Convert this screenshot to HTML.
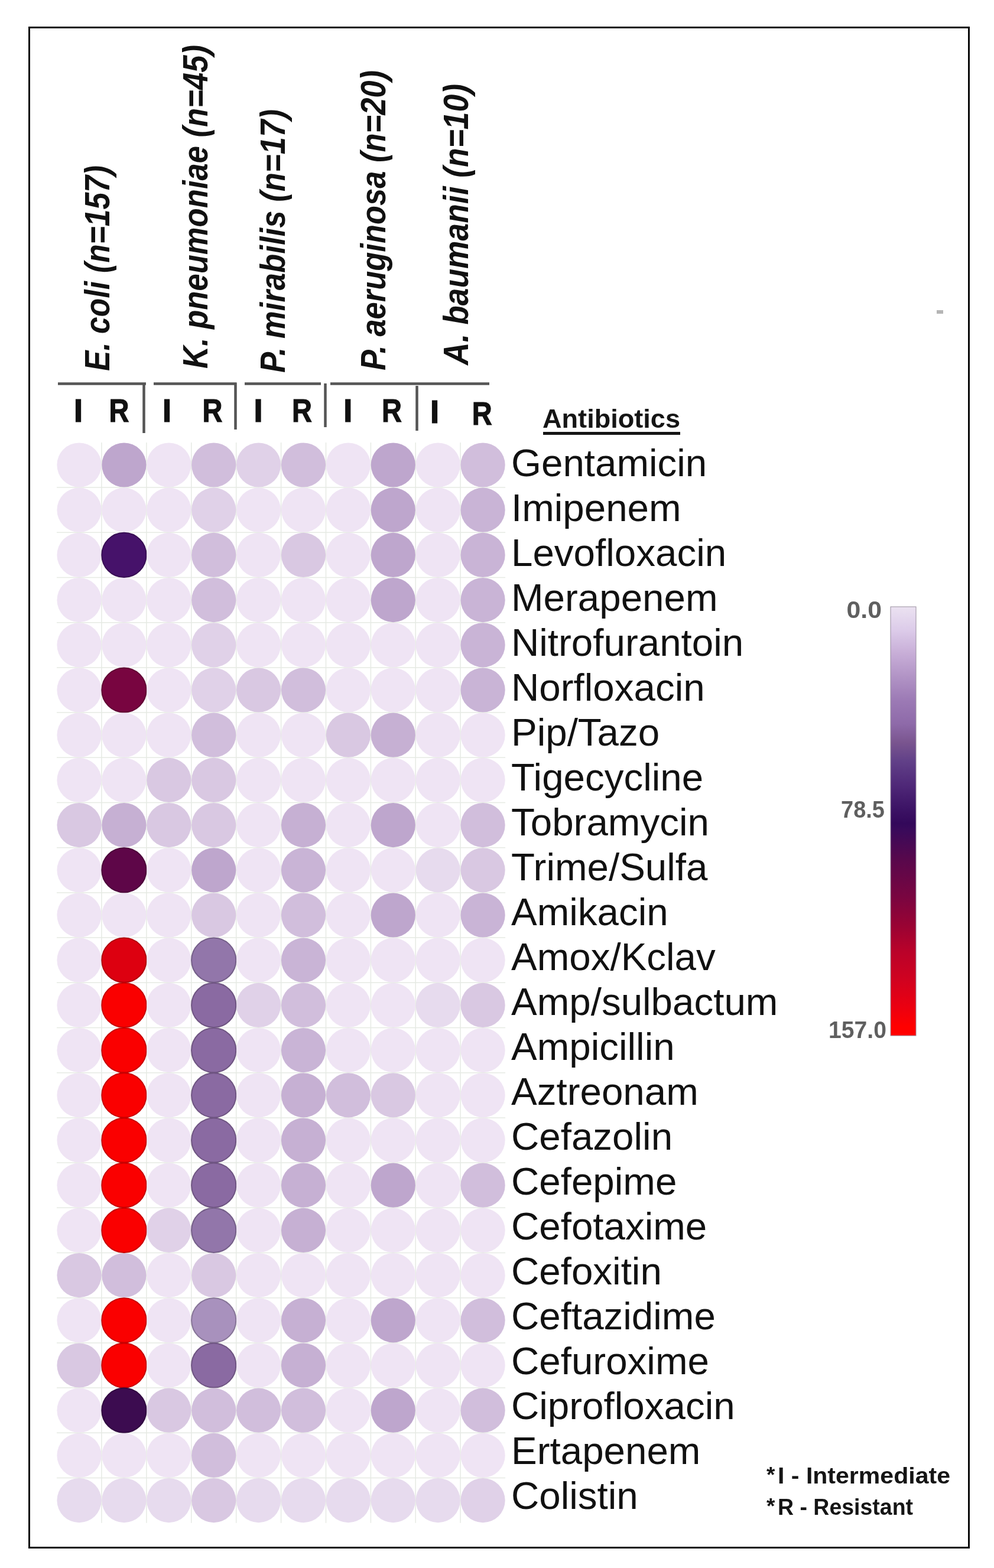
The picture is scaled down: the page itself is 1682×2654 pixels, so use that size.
<!DOCTYPE html>
<html><head><meta charset="utf-8"><title>Antibiotic resistance heatmap</title>
<style>
html,body{margin:0;padding:0;background:#fff;}
body{width:1682px;height:2654px;overflow:hidden;position:relative;}
svg{position:absolute;left:0;top:0;display:block;}
.lab{font-family:"Liberation Sans",Arial,sans-serif;font-size:65.5px;fill:#111;}
.hdr{font-family:"Liberation Sans",Arial,sans-serif;font-size:59px;font-weight:bold;font-style:italic;fill:#111;}
.ir{font-family:"Liberation Sans",Arial,sans-serif;font-size:56px;font-weight:bold;fill:#111;stroke:#111;stroke-width:1.2px;}
.cb{font-family:"Liberation Sans",Arial,sans-serif;font-size:40px;font-weight:bold;fill:#5f5f5f;}
.fn{font-family:"Liberation Sans",Arial,sans-serif;font-size:38px;font-weight:bold;fill:#151515;}
.ast{font-size:37px;}
.ab{font-family:"Liberation Sans",Arial,sans-serif;font-size:44px;font-weight:bold;fill:#151515;}
</style></head>
<body>
<svg width="1682" height="2654" viewBox="0 0 1682 2654">
<defs>
<linearGradient id="cbar" x1="0" y1="0" x2="0" y2="1">
<stop offset="0" stop-color="#ebe2f1"/>
<stop offset="0.055" stop-color="#dccbe9"/>
<stop offset="0.112" stop-color="#c6acd6"/>
<stop offset="0.164" stop-color="#b193c5"/>
<stop offset="0.218" stop-color="#9c7ab5"/>
<stop offset="0.273" stop-color="#8e6aa9"/>
<stop offset="0.316" stop-color="#7a558f"/>
<stop offset="0.36" stop-color="#614088"/>
<stop offset="0.416" stop-color="#4f2878"/>
<stop offset="0.468" stop-color="#3d1466"/>
<stop offset="0.505" stop-color="#33085a"/>
<stop offset="0.522" stop-color="#3a0a5a"/>
<stop offset="0.589" stop-color="#58084c"/>
<stop offset="0.678" stop-color="#7a0540"/>
<stop offset="0.745" stop-color="#9a0333"/>
<stop offset="0.8" stop-color="#b8022a"/>
<stop offset="0.868" stop-color="#d00220"/>
<stop offset="0.935" stop-color="#ec0010"/>
<stop offset="0.979" stop-color="#ff0000"/>
<stop offset="1" stop-color="#ff0000"/>
</linearGradient>
</defs>
<rect x="49.5" y="46.5" width="1590" height="2573" fill="none" stroke="#0a0a0a" stroke-width="3"/>
<rect x="96.0" y="748.9" width="759.0" height="1828.8" fill="#ffffff"/>
<path d="M171.9 748.9V2577.7M247.9 748.9V2577.7M323.8 748.9V2577.7M399.7 748.9V2577.7M475.6 748.9V2577.7M551.5 748.9V2577.7M627.4 748.9V2577.7M703.2 748.9V2577.7M779.1 748.9V2577.7M96.0 825.1H855.1M96.0 901.3H855.1M96.0 977.5H855.1M96.0 1053.7H855.1M96.0 1129.9H855.1M96.0 1206.1H855.1M96.0 1282.3H855.1M96.0 1358.5H855.1M96.0 1434.7H855.1M96.0 1510.9H855.1M96.0 1587.1H855.1M96.0 1663.3H855.1M96.0 1739.5H855.1M96.0 1815.7H855.1M96.0 1891.9H855.1M96.0 1968.1H855.1M96.0 2044.3H855.1M96.0 2120.5H855.1M96.0 2196.7H855.1M96.0 2272.9H855.1M96.0 2349.1H855.1M96.0 2425.3H855.1M96.0 2501.5H855.1" stroke="#e6eae4" stroke-width="1.5" fill="none"/>
<circle cx="134.0" cy="787.0" r="37.6" fill="#efe4f4"/>
<circle cx="209.9" cy="787.0" r="37.6" fill="#bea6cd"/>
<circle cx="285.8" cy="787.0" r="37.6" fill="#efe4f4"/>
<circle cx="361.7" cy="787.0" r="37.6" fill="#d1bedc"/>
<circle cx="437.6" cy="787.0" r="37.6" fill="#e0d1e8"/>
<circle cx="513.5" cy="787.0" r="37.6" fill="#d1bedc"/>
<circle cx="589.4" cy="787.0" r="37.6" fill="#efe4f4"/>
<circle cx="665.3" cy="787.0" r="37.6" fill="#bea6cd"/>
<circle cx="741.2" cy="787.0" r="37.6" fill="#efe4f4"/>
<circle cx="817.1" cy="787.0" r="37.6" fill="#d1bedc"/>
<circle cx="134.0" cy="863.2" r="37.6" fill="#efe4f4"/>
<circle cx="209.9" cy="863.2" r="37.6" fill="#efe4f4"/>
<circle cx="285.8" cy="863.2" r="37.6" fill="#efe4f4"/>
<circle cx="361.7" cy="863.2" r="37.6" fill="#e0d1e8"/>
<circle cx="437.6" cy="863.2" r="37.6" fill="#efe4f4"/>
<circle cx="513.5" cy="863.2" r="37.6" fill="#efe4f4"/>
<circle cx="589.4" cy="863.2" r="37.6" fill="#efe4f4"/>
<circle cx="665.3" cy="863.2" r="37.6" fill="#bea6cd"/>
<circle cx="741.2" cy="863.2" r="37.6" fill="#efe4f4"/>
<circle cx="817.1" cy="863.2" r="37.6" fill="#c9b4d6"/>
<circle cx="134.0" cy="939.4" r="37.6" fill="#efe4f4"/>
<circle cx="209.9" cy="939.4" r="37.6" fill="#46126a" stroke="#380e54" stroke-width="2"/>
<circle cx="285.8" cy="939.4" r="37.6" fill="#efe4f4"/>
<circle cx="361.7" cy="939.4" r="37.6" fill="#d1bedc"/>
<circle cx="437.6" cy="939.4" r="37.6" fill="#efe4f4"/>
<circle cx="513.5" cy="939.4" r="37.6" fill="#d9c8e2"/>
<circle cx="589.4" cy="939.4" r="37.6" fill="#efe4f4"/>
<circle cx="665.3" cy="939.4" r="37.6" fill="#bea6cd"/>
<circle cx="741.2" cy="939.4" r="37.6" fill="#efe4f4"/>
<circle cx="817.1" cy="939.4" r="37.6" fill="#c9b4d6"/>
<circle cx="134.0" cy="1015.6" r="37.6" fill="#efe4f4"/>
<circle cx="209.9" cy="1015.6" r="37.6" fill="#efe4f4"/>
<circle cx="285.8" cy="1015.6" r="37.6" fill="#efe4f4"/>
<circle cx="361.7" cy="1015.6" r="37.6" fill="#d1bedc"/>
<circle cx="437.6" cy="1015.6" r="37.6" fill="#efe4f4"/>
<circle cx="513.5" cy="1015.6" r="37.6" fill="#efe4f4"/>
<circle cx="589.4" cy="1015.6" r="37.6" fill="#efe4f4"/>
<circle cx="665.3" cy="1015.6" r="37.6" fill="#bea6cd"/>
<circle cx="741.2" cy="1015.6" r="37.6" fill="#efe4f4"/>
<circle cx="817.1" cy="1015.6" r="37.6" fill="#c9b4d6"/>
<circle cx="134.0" cy="1091.8" r="37.6" fill="#efe4f4"/>
<circle cx="209.9" cy="1091.8" r="37.6" fill="#efe4f4"/>
<circle cx="285.8" cy="1091.8" r="37.6" fill="#efe4f4"/>
<circle cx="361.7" cy="1091.8" r="37.6" fill="#e0d1e8"/>
<circle cx="437.6" cy="1091.8" r="37.6" fill="#efe4f4"/>
<circle cx="513.5" cy="1091.8" r="37.6" fill="#efe4f4"/>
<circle cx="589.4" cy="1091.8" r="37.6" fill="#efe4f4"/>
<circle cx="665.3" cy="1091.8" r="37.6" fill="#efe4f4"/>
<circle cx="741.2" cy="1091.8" r="37.6" fill="#efe4f4"/>
<circle cx="817.1" cy="1091.8" r="37.6" fill="#c9b4d6"/>
<circle cx="134.0" cy="1168.0" r="37.6" fill="#efe4f4"/>
<circle cx="209.9" cy="1168.0" r="37.6" fill="#780540" stroke="#600433" stroke-width="2"/>
<circle cx="285.8" cy="1168.0" r="37.6" fill="#efe4f4"/>
<circle cx="361.7" cy="1168.0" r="37.6" fill="#e0d1e8"/>
<circle cx="437.6" cy="1168.0" r="37.6" fill="#d9c8e2"/>
<circle cx="513.5" cy="1168.0" r="37.6" fill="#d1bedc"/>
<circle cx="589.4" cy="1168.0" r="37.6" fill="#efe4f4"/>
<circle cx="665.3" cy="1168.0" r="37.6" fill="#efe4f4"/>
<circle cx="741.2" cy="1168.0" r="37.6" fill="#efe4f4"/>
<circle cx="817.1" cy="1168.0" r="37.6" fill="#c9b4d6"/>
<circle cx="134.0" cy="1244.2" r="37.6" fill="#efe4f4"/>
<circle cx="209.9" cy="1244.2" r="37.6" fill="#efe4f4"/>
<circle cx="285.8" cy="1244.2" r="37.6" fill="#efe4f4"/>
<circle cx="361.7" cy="1244.2" r="37.6" fill="#d1bedc"/>
<circle cx="437.6" cy="1244.2" r="37.6" fill="#efe4f4"/>
<circle cx="513.5" cy="1244.2" r="37.6" fill="#efe4f4"/>
<circle cx="589.4" cy="1244.2" r="37.6" fill="#d9c8e2"/>
<circle cx="665.3" cy="1244.2" r="37.6" fill="#c6b0d3"/>
<circle cx="741.2" cy="1244.2" r="37.6" fill="#efe4f4"/>
<circle cx="817.1" cy="1244.2" r="37.6" fill="#efe4f4"/>
<circle cx="134.0" cy="1320.4" r="37.6" fill="#efe4f4"/>
<circle cx="209.9" cy="1320.4" r="37.6" fill="#efe4f4"/>
<circle cx="285.8" cy="1320.4" r="37.6" fill="#d9c8e2"/>
<circle cx="361.7" cy="1320.4" r="37.6" fill="#d9c8e2"/>
<circle cx="437.6" cy="1320.4" r="37.6" fill="#efe4f4"/>
<circle cx="513.5" cy="1320.4" r="37.6" fill="#efe4f4"/>
<circle cx="589.4" cy="1320.4" r="37.6" fill="#efe4f4"/>
<circle cx="665.3" cy="1320.4" r="37.6" fill="#efe4f4"/>
<circle cx="741.2" cy="1320.4" r="37.6" fill="#efe4f4"/>
<circle cx="817.1" cy="1320.4" r="37.6" fill="#efe4f4"/>
<circle cx="134.0" cy="1396.6" r="37.6" fill="#d9c8e2"/>
<circle cx="209.9" cy="1396.6" r="37.6" fill="#c6b0d3"/>
<circle cx="285.8" cy="1396.6" r="37.6" fill="#d9c8e2"/>
<circle cx="361.7" cy="1396.6" r="37.6" fill="#d9c8e2"/>
<circle cx="437.6" cy="1396.6" r="37.6" fill="#efe4f4"/>
<circle cx="513.5" cy="1396.6" r="37.6" fill="#c6b0d3"/>
<circle cx="589.4" cy="1396.6" r="37.6" fill="#efe4f4"/>
<circle cx="665.3" cy="1396.6" r="37.6" fill="#bea6cd"/>
<circle cx="741.2" cy="1396.6" r="37.6" fill="#efe4f4"/>
<circle cx="817.1" cy="1396.6" r="37.6" fill="#d1bedc"/>
<circle cx="134.0" cy="1472.8" r="37.6" fill="#efe4f4"/>
<circle cx="209.9" cy="1472.8" r="37.6" fill="#5e0648" stroke="#4b0439" stroke-width="2"/>
<circle cx="285.8" cy="1472.8" r="37.6" fill="#efe4f4"/>
<circle cx="361.7" cy="1472.8" r="37.6" fill="#bea6cd"/>
<circle cx="437.6" cy="1472.8" r="37.6" fill="#efe4f4"/>
<circle cx="513.5" cy="1472.8" r="37.6" fill="#c9b4d6"/>
<circle cx="589.4" cy="1472.8" r="37.6" fill="#efe4f4"/>
<circle cx="665.3" cy="1472.8" r="37.6" fill="#efe4f4"/>
<circle cx="741.2" cy="1472.8" r="37.6" fill="#e7dbee"/>
<circle cx="817.1" cy="1472.8" r="37.6" fill="#d9c8e2"/>
<circle cx="134.0" cy="1549.0" r="37.6" fill="#efe4f4"/>
<circle cx="209.9" cy="1549.0" r="37.6" fill="#efe4f4"/>
<circle cx="285.8" cy="1549.0" r="37.6" fill="#efe4f4"/>
<circle cx="361.7" cy="1549.0" r="37.6" fill="#d9c8e2"/>
<circle cx="437.6" cy="1549.0" r="37.6" fill="#efe4f4"/>
<circle cx="513.5" cy="1549.0" r="37.6" fill="#d1bedc"/>
<circle cx="589.4" cy="1549.0" r="37.6" fill="#efe4f4"/>
<circle cx="665.3" cy="1549.0" r="37.6" fill="#bea6cd"/>
<circle cx="741.2" cy="1549.0" r="37.6" fill="#efe4f4"/>
<circle cx="817.1" cy="1549.0" r="37.6" fill="#c9b4d6"/>
<circle cx="134.0" cy="1625.2" r="37.6" fill="#efe4f4"/>
<circle cx="209.9" cy="1625.2" r="37.6" fill="#dd0010" stroke="#b0000c" stroke-width="2"/>
<circle cx="285.8" cy="1625.2" r="37.6" fill="#efe4f4"/>
<circle cx="361.7" cy="1625.2" r="37.6" fill="#9276aa" stroke="#745e88" stroke-width="2"/>
<circle cx="437.6" cy="1625.2" r="37.6" fill="#efe4f4"/>
<circle cx="513.5" cy="1625.2" r="37.6" fill="#c9b4d6"/>
<circle cx="589.4" cy="1625.2" r="37.6" fill="#efe4f4"/>
<circle cx="665.3" cy="1625.2" r="37.6" fill="#efe4f4"/>
<circle cx="741.2" cy="1625.2" r="37.6" fill="#efe4f4"/>
<circle cx="817.1" cy="1625.2" r="37.6" fill="#efe4f4"/>
<circle cx="134.0" cy="1701.4" r="37.6" fill="#efe4f4"/>
<circle cx="209.9" cy="1701.4" r="37.6" fill="#fa0000" stroke="#c80000" stroke-width="2"/>
<circle cx="285.8" cy="1701.4" r="37.6" fill="#efe4f4"/>
<circle cx="361.7" cy="1701.4" r="37.6" fill="#8a6aa2" stroke="#6e5481" stroke-width="2"/>
<circle cx="437.6" cy="1701.4" r="37.6" fill="#e0d1e8"/>
<circle cx="513.5" cy="1701.4" r="37.6" fill="#d1bedc"/>
<circle cx="589.4" cy="1701.4" r="37.6" fill="#efe4f4"/>
<circle cx="665.3" cy="1701.4" r="37.6" fill="#efe4f4"/>
<circle cx="741.2" cy="1701.4" r="37.6" fill="#e7dbee"/>
<circle cx="817.1" cy="1701.4" r="37.6" fill="#d9c8e2"/>
<circle cx="134.0" cy="1777.6" r="37.6" fill="#efe4f4"/>
<circle cx="209.9" cy="1777.6" r="37.6" fill="#fa0000" stroke="#c80000" stroke-width="2"/>
<circle cx="285.8" cy="1777.6" r="37.6" fill="#efe4f4"/>
<circle cx="361.7" cy="1777.6" r="37.6" fill="#8a6aa2" stroke="#6e5481" stroke-width="2"/>
<circle cx="437.6" cy="1777.6" r="37.6" fill="#efe4f4"/>
<circle cx="513.5" cy="1777.6" r="37.6" fill="#c9b4d6"/>
<circle cx="589.4" cy="1777.6" r="37.6" fill="#efe4f4"/>
<circle cx="665.3" cy="1777.6" r="37.6" fill="#efe4f4"/>
<circle cx="741.2" cy="1777.6" r="37.6" fill="#efe4f4"/>
<circle cx="817.1" cy="1777.6" r="37.6" fill="#efe4f4"/>
<circle cx="134.0" cy="1853.8" r="37.6" fill="#efe4f4"/>
<circle cx="209.9" cy="1853.8" r="37.6" fill="#fa0000" stroke="#c80000" stroke-width="2"/>
<circle cx="285.8" cy="1853.8" r="37.6" fill="#efe4f4"/>
<circle cx="361.7" cy="1853.8" r="37.6" fill="#8a6aa2" stroke="#6e5481" stroke-width="2"/>
<circle cx="437.6" cy="1853.8" r="37.6" fill="#efe4f4"/>
<circle cx="513.5" cy="1853.8" r="37.6" fill="#c6b0d3"/>
<circle cx="589.4" cy="1853.8" r="37.6" fill="#d1bedc"/>
<circle cx="665.3" cy="1853.8" r="37.6" fill="#d9c8e2"/>
<circle cx="741.2" cy="1853.8" r="37.6" fill="#efe4f4"/>
<circle cx="817.1" cy="1853.8" r="37.6" fill="#efe4f4"/>
<circle cx="134.0" cy="1930.0" r="37.6" fill="#efe4f4"/>
<circle cx="209.9" cy="1930.0" r="37.6" fill="#fa0000" stroke="#c80000" stroke-width="2"/>
<circle cx="285.8" cy="1930.0" r="37.6" fill="#efe4f4"/>
<circle cx="361.7" cy="1930.0" r="37.6" fill="#8a6aa2" stroke="#6e5481" stroke-width="2"/>
<circle cx="437.6" cy="1930.0" r="37.6" fill="#efe4f4"/>
<circle cx="513.5" cy="1930.0" r="37.6" fill="#c6b0d3"/>
<circle cx="589.4" cy="1930.0" r="37.6" fill="#efe4f4"/>
<circle cx="665.3" cy="1930.0" r="37.6" fill="#efe4f4"/>
<circle cx="741.2" cy="1930.0" r="37.6" fill="#efe4f4"/>
<circle cx="817.1" cy="1930.0" r="37.6" fill="#efe4f4"/>
<circle cx="134.0" cy="2006.2" r="37.6" fill="#efe4f4"/>
<circle cx="209.9" cy="2006.2" r="37.6" fill="#fa0000" stroke="#c80000" stroke-width="2"/>
<circle cx="285.8" cy="2006.2" r="37.6" fill="#efe4f4"/>
<circle cx="361.7" cy="2006.2" r="37.6" fill="#8a6aa2" stroke="#6e5481" stroke-width="2"/>
<circle cx="437.6" cy="2006.2" r="37.6" fill="#efe4f4"/>
<circle cx="513.5" cy="2006.2" r="37.6" fill="#c6b0d3"/>
<circle cx="589.4" cy="2006.2" r="37.6" fill="#efe4f4"/>
<circle cx="665.3" cy="2006.2" r="37.6" fill="#bea6cd"/>
<circle cx="741.2" cy="2006.2" r="37.6" fill="#efe4f4"/>
<circle cx="817.1" cy="2006.2" r="37.6" fill="#d1bedc"/>
<circle cx="134.0" cy="2082.4" r="37.6" fill="#efe4f4"/>
<circle cx="209.9" cy="2082.4" r="37.6" fill="#fa0000" stroke="#c80000" stroke-width="2"/>
<circle cx="285.8" cy="2082.4" r="37.6" fill="#e0d1e8"/>
<circle cx="361.7" cy="2082.4" r="37.6" fill="#9276aa" stroke="#745e88" stroke-width="2"/>
<circle cx="437.6" cy="2082.4" r="37.6" fill="#efe4f4"/>
<circle cx="513.5" cy="2082.4" r="37.6" fill="#c6b0d3"/>
<circle cx="589.4" cy="2082.4" r="37.6" fill="#efe4f4"/>
<circle cx="665.3" cy="2082.4" r="37.6" fill="#efe4f4"/>
<circle cx="741.2" cy="2082.4" r="37.6" fill="#efe4f4"/>
<circle cx="817.1" cy="2082.4" r="37.6" fill="#efe4f4"/>
<circle cx="134.0" cy="2158.6" r="37.6" fill="#d9c8e2"/>
<circle cx="209.9" cy="2158.6" r="37.6" fill="#d1bedc"/>
<circle cx="285.8" cy="2158.6" r="37.6" fill="#efe4f4"/>
<circle cx="361.7" cy="2158.6" r="37.6" fill="#d9c8e2"/>
<circle cx="437.6" cy="2158.6" r="37.6" fill="#efe4f4"/>
<circle cx="513.5" cy="2158.6" r="37.6" fill="#efe4f4"/>
<circle cx="589.4" cy="2158.6" r="37.6" fill="#efe4f4"/>
<circle cx="665.3" cy="2158.6" r="37.6" fill="#efe4f4"/>
<circle cx="741.2" cy="2158.6" r="37.6" fill="#efe4f4"/>
<circle cx="817.1" cy="2158.6" r="37.6" fill="#efe4f4"/>
<circle cx="134.0" cy="2234.8" r="37.6" fill="#efe4f4"/>
<circle cx="209.9" cy="2234.8" r="37.6" fill="#fa0000" stroke="#c80000" stroke-width="2"/>
<circle cx="285.8" cy="2234.8" r="37.6" fill="#efe4f4"/>
<circle cx="361.7" cy="2234.8" r="37.6" fill="#a891bd" stroke="#867497" stroke-width="2"/>
<circle cx="437.6" cy="2234.8" r="37.6" fill="#efe4f4"/>
<circle cx="513.5" cy="2234.8" r="37.6" fill="#c6b0d3"/>
<circle cx="589.4" cy="2234.8" r="37.6" fill="#efe4f4"/>
<circle cx="665.3" cy="2234.8" r="37.6" fill="#bea6cd"/>
<circle cx="741.2" cy="2234.8" r="37.6" fill="#efe4f4"/>
<circle cx="817.1" cy="2234.8" r="37.6" fill="#d1bedc"/>
<circle cx="134.0" cy="2311.0" r="37.6" fill="#d9c8e2"/>
<circle cx="209.9" cy="2311.0" r="37.6" fill="#fa0000" stroke="#c80000" stroke-width="2"/>
<circle cx="285.8" cy="2311.0" r="37.6" fill="#efe4f4"/>
<circle cx="361.7" cy="2311.0" r="37.6" fill="#8a6aa2" stroke="#6e5481" stroke-width="2"/>
<circle cx="437.6" cy="2311.0" r="37.6" fill="#efe4f4"/>
<circle cx="513.5" cy="2311.0" r="37.6" fill="#c6b0d3"/>
<circle cx="589.4" cy="2311.0" r="37.6" fill="#efe4f4"/>
<circle cx="665.3" cy="2311.0" r="37.6" fill="#efe4f4"/>
<circle cx="741.2" cy="2311.0" r="37.6" fill="#efe4f4"/>
<circle cx="817.1" cy="2311.0" r="37.6" fill="#efe4f4"/>
<circle cx="134.0" cy="2387.2" r="37.6" fill="#efe4f4"/>
<circle cx="209.9" cy="2387.2" r="37.6" fill="#3c0c50" stroke="#300940" stroke-width="2"/>
<circle cx="285.8" cy="2387.2" r="37.6" fill="#d9c8e2"/>
<circle cx="361.7" cy="2387.2" r="37.6" fill="#d1bedc"/>
<circle cx="437.6" cy="2387.2" r="37.6" fill="#d1bedc"/>
<circle cx="513.5" cy="2387.2" r="37.6" fill="#d1bedc"/>
<circle cx="589.4" cy="2387.2" r="37.6" fill="#efe4f4"/>
<circle cx="665.3" cy="2387.2" r="37.6" fill="#bea6cd"/>
<circle cx="741.2" cy="2387.2" r="37.6" fill="#efe4f4"/>
<circle cx="817.1" cy="2387.2" r="37.6" fill="#d1bedc"/>
<circle cx="134.0" cy="2463.4" r="37.6" fill="#efe4f4"/>
<circle cx="209.9" cy="2463.4" r="37.6" fill="#efe4f4"/>
<circle cx="285.8" cy="2463.4" r="37.6" fill="#efe4f4"/>
<circle cx="361.7" cy="2463.4" r="37.6" fill="#d1bedc"/>
<circle cx="437.6" cy="2463.4" r="37.6" fill="#efe4f4"/>
<circle cx="513.5" cy="2463.4" r="37.6" fill="#efe4f4"/>
<circle cx="589.4" cy="2463.4" r="37.6" fill="#efe4f4"/>
<circle cx="665.3" cy="2463.4" r="37.6" fill="#efe4f4"/>
<circle cx="741.2" cy="2463.4" r="37.6" fill="#efe4f4"/>
<circle cx="817.1" cy="2463.4" r="37.6" fill="#efe4f4"/>
<circle cx="134.0" cy="2539.6" r="37.6" fill="#e7dbee"/>
<circle cx="209.9" cy="2539.6" r="37.6" fill="#e7dbee"/>
<circle cx="285.8" cy="2539.6" r="37.6" fill="#e7dbee"/>
<circle cx="361.7" cy="2539.6" r="37.6" fill="#d9c8e2"/>
<circle cx="437.6" cy="2539.6" r="37.6" fill="#e7dbee"/>
<circle cx="513.5" cy="2539.6" r="37.6" fill="#e7dbee"/>
<circle cx="589.4" cy="2539.6" r="37.6" fill="#e7dbee"/>
<circle cx="665.3" cy="2539.6" r="37.6" fill="#e7dbee"/>
<circle cx="741.2" cy="2539.6" r="37.6" fill="#e7dbee"/>
<circle cx="817.1" cy="2539.6" r="37.6" fill="#e0d1e8"/>
<text transform="translate(185,628) rotate(-90)" class="hdr" textLength="348" lengthAdjust="spacingAndGlyphs">E. coli (n=157)</text>
<text transform="translate(351,624) rotate(-90)" class="hdr" textLength="548" lengthAdjust="spacingAndGlyphs">K. pneumoniae (n=45)</text>
<text transform="translate(482,631) rotate(-90)" class="hdr" textLength="446" lengthAdjust="spacingAndGlyphs">P. mirabilis (n=17)</text>
<text transform="translate(652,627) rotate(-90)" class="hdr" textLength="508" lengthAdjust="spacingAndGlyphs">P. aeruginosa (n=20)</text>
<text transform="translate(792,618) rotate(-90)" class="hdr" textLength="476" lengthAdjust="spacingAndGlyphs">A. baumanii (n=10)</text>
<path d="M98 649.5H247M260 649.5H400M414 649.5H543M559 649.5H828M243.5 647.5V733M398.5 647.5V727M550.5 649V723M705.5 653V729" stroke="#555" stroke-width="4.5" fill="none"/>
<text x="132.6" y="714" class="ir" text-anchor="middle">I</text>
<text transform="translate(201.5,714) scale(0.84,1)" class="ir" text-anchor="middle">R</text>
<text x="282.5" y="714" class="ir" text-anchor="middle">I</text>
<text transform="translate(359.5,714) scale(0.84,1)" class="ir" text-anchor="middle">R</text>
<text x="437" y="714" class="ir" text-anchor="middle">I</text>
<text transform="translate(511,714) scale(0.84,1)" class="ir" text-anchor="middle">R</text>
<text x="588.7" y="714" class="ir" text-anchor="middle">I</text>
<text transform="translate(663,714) scale(0.84,1)" class="ir" text-anchor="middle">R</text>
<text x="735.5" y="716" class="ir" text-anchor="middle">I</text>
<text transform="translate(815.7,719) scale(0.84,1)" class="ir" text-anchor="middle">R</text>
<text x="918" y="724" class="ab" textLength="233" lengthAdjust="spacingAndGlyphs">Antibiotics</text>
<rect x="919" y="731" width="232" height="5" fill="#151515"/>
<text x="865" y="806.0" class="lab">Gentamicin</text>
<text x="865" y="882.0" class="lab">Imipenem</text>
<text x="865" y="958.0" class="lab">Levofloxacin</text>
<text x="865" y="1034.0" class="lab">Merapenem</text>
<text x="865" y="1110.0" class="lab">Nitrofurantoin</text>
<text x="865" y="1186.0" class="lab">Norfloxacin</text>
<text x="865" y="1262.0" class="lab">Pip/Tazo</text>
<text x="865" y="1338.0" class="lab">Tigecycline</text>
<text x="865" y="1414.0" class="lab">Tobramycin</text>
<text x="865" y="1490.0" class="lab">Trime/Sulfa</text>
<text x="865" y="1566.0" class="lab">Amikacin</text>
<text x="865" y="1642.0" class="lab">Amox/Kclav</text>
<text x="865" y="1718.0" class="lab">Amp/sulbactum</text>
<text x="865" y="1794.0" class="lab">Ampicillin</text>
<text x="865" y="1870.0" class="lab">Aztreonam</text>
<text x="865" y="1946.0" class="lab">Cefazolin</text>
<text x="865" y="2022.0" class="lab">Cefepime</text>
<text x="865" y="2098.0" class="lab">Cefotaxime</text>
<text x="865" y="2174.0" class="lab">Cefoxitin</text>
<text x="865" y="2250.0" class="lab">Ceftazidime</text>
<text x="865" y="2326.0" class="lab">Cefuroxime</text>
<text x="865" y="2402.0" class="lab">Ciprofloxacin</text>
<text x="865" y="2478.0" class="lab">Ertapenem</text>
<text x="865" y="2554.0" class="lab">Colistin</text>
<rect x="1507" y="1027" width="43" height="726" fill="url(#cbar)" stroke="#9a8fa0" stroke-width="1"/>
<text x="1432.5" y="1046" class="cb" textLength="59.5" lengthAdjust="spacingAndGlyphs">0.0</text>
<text x="1423" y="1384" class="cb" textLength="74" lengthAdjust="spacingAndGlyphs">78.5</text>
<text x="1402" y="1757" class="cb" textLength="98" lengthAdjust="spacingAndGlyphs">157.0</text>
<text x="1297" y="2509" class="fn ast">*</text><text x="1316" y="2511" class="fn" textLength="292" lengthAdjust="spacingAndGlyphs">I - Intermediate</text>
<text x="1297" y="2562" class="fn ast">*</text><text x="1316" y="2564" class="fn" textLength="229" lengthAdjust="spacingAndGlyphs">R - Resistant</text>
<rect x="1585" y="525" width="11" height="6" fill="#b5b5b5"/>
</svg>
</body></html>
